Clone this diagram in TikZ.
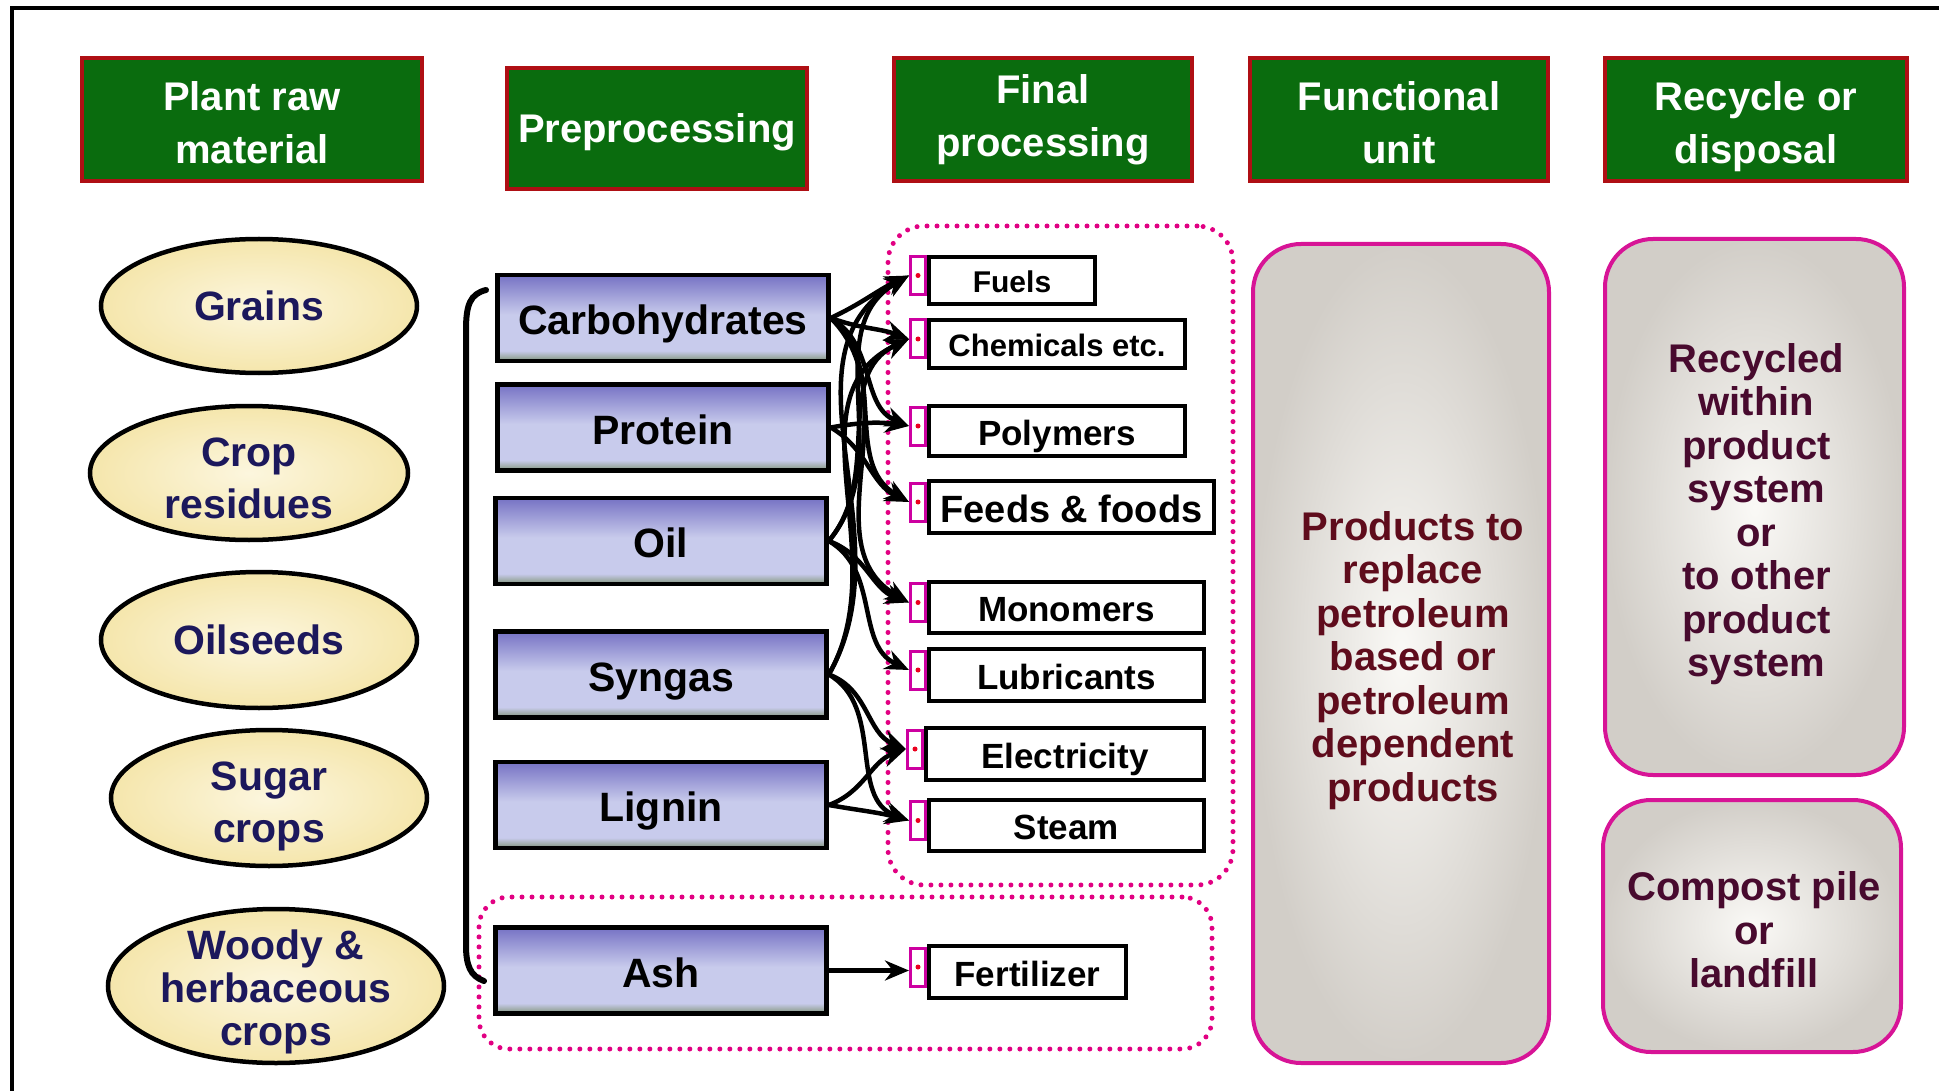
\documentclass[tikz,border=0pt]{standalone}
\usepackage{fontspec}
\setmainfont{Liberation Sans}
\usetikzlibrary{arrows.meta,shapes.geometric,calc}

\definecolor{hdrgreen}{RGB}{10,108,14}
\definecolor{hdrred}{RGB}{175,15,20}
\definecolor{navytext}{RGB}{28,24,92}
\definecolor{ellfill}{RGB}{245,230,172}
\definecolor{ellinner}{RGB}{252,246,222}
\definecolor{ptop}{RGB}{118,114,196}
\definecolor{plight}{RGB}{200,203,236}
\definecolor{pmid}{RGB}{160,172,170}
\definecolor{pband}{RGB}{120,140,120}
\definecolor{dotmag}{RGB}{225,0,130}
\definecolor{tabmag}{RGB}{205,0,160}
\definecolor{dotred}{RGB}{235,0,30}
\definecolor{boxmag}{RGB}{215,20,150}
\definecolor{grayout}{RGB}{210,206,200}
\definecolor{grayin}{RGB}{250,249,246}
\definecolor{maroon}{RGB}{95,12,28}
\definecolor{plum}{RGB}{72,10,46}

% lavender boxes: dark top, light body, grey-green foot
\pgfdeclareverticalshading{prepshade}{100bp}{color(0bp)=(pband); color(25bp)=(pband); color(27.5bp)=(pmid); color(31bp)=(plight); color(52bp)=(plight); color(75bp)=(ptop); color(100bp)=(ptop)}

% fixed line struts for the header labels
\newcommand\hdtop{\rule{0pt}{44pt}}
\newcommand\hdbot{\rule[-9pt]{0pt}{9pt}}

\begin{document}
\begin{tikzpicture}[x=1pt,y=-1pt,
  hdr/.style={draw=hdrred, line width=4pt, fill=hdrgreen, text=white,
    font=\bfseries\fontsize{40}{53}\selectfont, align=center, inner sep=0pt},
  crop/.style={ellipse, draw=black, line width=4.5pt, inner color=ellinner,
    outer color=ellfill, inner sep=0pt},
  croptext/.style={text=navytext, align=center, inner sep=0pt,
    font=\bfseries\fontsize{41}{52}\selectfont},
  prep/.style={draw=black, line width=4.5pt, shading=prepshade,
    font=\bfseries\fontsize{41}{41}\selectfont, minimum width=331pt,
    minimum height=86pt, inner sep=0pt, text height=42pt, text depth=9pt},
  prod/.style={draw=black, line width=4pt, fill=white, anchor=west,
    inner sep=0pt, font=\bfseries\fontsize{35}{35}\selectfont,
    text height=34pt, text depth=6pt},
  tab/.style={draw=tabmag, line width=3pt, fill=white, minimum width=15pt,
    minimum height=38pt, inner sep=0pt, anchor=east},
  flow/.style={line width=4.5pt, -{Stealth[length=24pt,width=20pt]}},
  group/.style={draw=dotmag, line width=5pt, dash pattern=on 0pt off 10pt,
    line cap=round, rounded corners=36pt, inner sep=0pt},
  endbox/.style={draw=boxmag, line width=4pt, rounded corners=48pt,
    inner color=grayin, outer color=grayout, inner sep=0pt},
  endtext/.style={align=center, inner sep=0pt,
    font=\bfseries\fontsize{40}{43.5}\selectfont}]

\useasboundingbox (0,0) rectangle (1939,1091);

% outer frame
\draw[line width=4pt] (12,1091) -- (12,8) -- (1939,8);

% column headers
\node[hdr, minimum width=340pt, minimum height=123pt] (hraw) at (252,119.5) {\hdtop Plant raw\\material\hdbot};
\node[hdr, minimum width=300pt, minimum height=121pt] (hpre) at (657,129) {\rule{0pt}{37pt}Preprocessing\hdbot};
\node[hdr, minimum width=298pt, minimum height=123pt] (hfin) at (1043,119.5) {Final\\processing};
\node[hdr, minimum width=298pt, minimum height=123pt] (hfun) at (1399,119.5) {\hdtop Functional\\unit\hdbot};
\node[hdr, minimum width=302pt, minimum height=123pt] (hrec) at (1756,119.5) {\hdtop Recycle or\\disposal\hdbot};

% raw materials
\node[crop, minimum width=316pt, minimum height=134pt] (grains) at (259,306) {};
\node[croptext] (grains-l) at (grains) {Grains};
\node[crop, minimum width=318pt, minimum height=134pt] (resid) at (249,473) {};
\node[croptext] (resid-l) at ([yshift=-5pt]resid.center) {Crop\\residues};
\node[crop, minimum width=316pt, minimum height=136pt] (oilseed) at (259,640) {};
\node[croptext] (oilseed-l) at (oilseed) {Oilseeds};
\node[crop, minimum width=316pt, minimum height=136pt] (sugar) at (269,798) {};
\node[croptext] (sugar-l) at ([yshift=-8pt]sugar.center) {Sugar\\crops};
\node[crop, minimum width=336pt, minimum height=154pt] (woody) at (276,986) {};
\node[croptext, font=\bfseries\fontsize{41}{43}\selectfont] (woody-l) at ([yshift=-6pt]woody.center) {Woody \&\\herbaceous\\crops};

% dotted groupings
\node[group, minimum width=345pt, minimum height=659pt] (fingroup) at (1060.5,555.5) {};
\node[group, minimum width=733pt, minimum height=152pt, rounded corners=30pt] (ashgroup) at (845.5,973) {};

% bracket joining the fractions
\draw[line width=6pt, line cap=round] (486,290) .. controls (470,294) and (466,305) .. (466,330)
  -- (466,945) .. controls (466,965) and (470,976) .. (484,981);

% preprocessing fractions
\node[prep] (carb) at (663,318) {Carbohydrates};
\node[prep] (prot) at (663,427.5) {Protein};
\node[prep] (oil) at (661,541) {Oil};
\node[prep] (syn) at (661,674.5) {Syngas};
\node[prep] (lig) at (661,805) {Lignin};
\node[prep] (ash) at (661,970.5) {Ash};

% final products
\node[prod, minimum width=166pt, minimum height=47pt, font=\bfseries\fontsize{30}{30}\selectfont,
  text height=30pt, text depth=5pt] (fuels) at (927,280.5) {Fuels};
\node[prod, minimum width=256pt, minimum height=48pt, font=\bfseries\fontsize{31}{31}\selectfont,
  text height=30pt, text depth=5pt] (chem) at (927,344) {Chemicals etc.};
\node[prod, minimum width=256pt, minimum height=50pt] (poly) at (927,431) {Polymers};
\node[prod, minimum width=285pt, minimum height=52pt, font=\bfseries\fontsize{38}{38}\selectfont,
  text height=37pt, text depth=7pt] (feeds) at (927,507) {Feeds \& foods};
\node[prod, minimum width=275pt, minimum height=51pt] (mono) at (927,607.5) {Monomers};
\node[prod, minimum width=275pt, minimum height=52pt] (lubr) at (927,675) {Lubricants};
\node[prod, minimum width=278pt, minimum height=52pt] (elec) at (924,754) {Electricity};
\node[prod, minimum width=275pt, minimum height=51pt] (steam) at (927,825.5) {Steam};
\node[prod, minimum width=197pt, minimum height=52pt] (fert) at (927,972) {Fertilizer};

% input tabs on the product boxes
\foreach \n in {fuels,chem,poly,feeds,mono,lubr,elec,steam,fert}{
  \node[tab] (\n-t) at ([yshift=5pt]\n.west) {};
  \fill[dotred] (\n-t.center) circle (2.5pt);
}

% conversion routes (source / target / leaving angle / arriving angle)
\foreach \s/\t/\o/\i in {carb/fuels/25/205, carb/chem/-20/160, carb/poly/-30/158,
                         carb/feeds/-40/150, carb/mono/-45/150,
                         prot/poly/10/172, prot/feeds/-30/155,
                         oil/fuels/50/210, oil/chem/50/205, oil/mono/-20/160, oil/lubr/-30/155,
                         syn/fuels/60/210, syn/chem/60/205, syn/elec/-20/158, syn/steam/-30/160,
                         lig/elec/20/200, lig/steam/-10/165}
  \draw[flow] (\s.east) to[out=\o,in=\i] (\t-t.west);
\draw[flow] (ash.east) -- (ash.east -| fert-t.west);

% functional unit and end of life
\node[endbox, minimum width=296pt, minimum height=819pt] (fun) at (1401,653.5) {};
\node[endtext, text=maroon] (fun-l) at ([xshift=12pt,yshift=-7pt]fun.center)
  {Products to\\replace\\petroleum\\based or\\petroleum\\dependent\\products};
\node[endbox, minimum width=299pt, minimum height=536pt] (recy) at (1754.5,507) {};
\node[endtext, text=plum] (recy-l) at ([xshift=2pt,yshift=-7pt]recy.center)
  {Recycled\\within\\product\\system\\or\\to other\\product\\system};
\node[endbox, minimum width=298pt, minimum height=252pt] (comp) at (1752,926) {};
\node[endtext, text=plum] (comp-l) at ([xshift=2pt,yshift=-4pt]comp.center)
  {Compost pile\\or\\landfill};

\end{tikzpicture}
\end{document}
